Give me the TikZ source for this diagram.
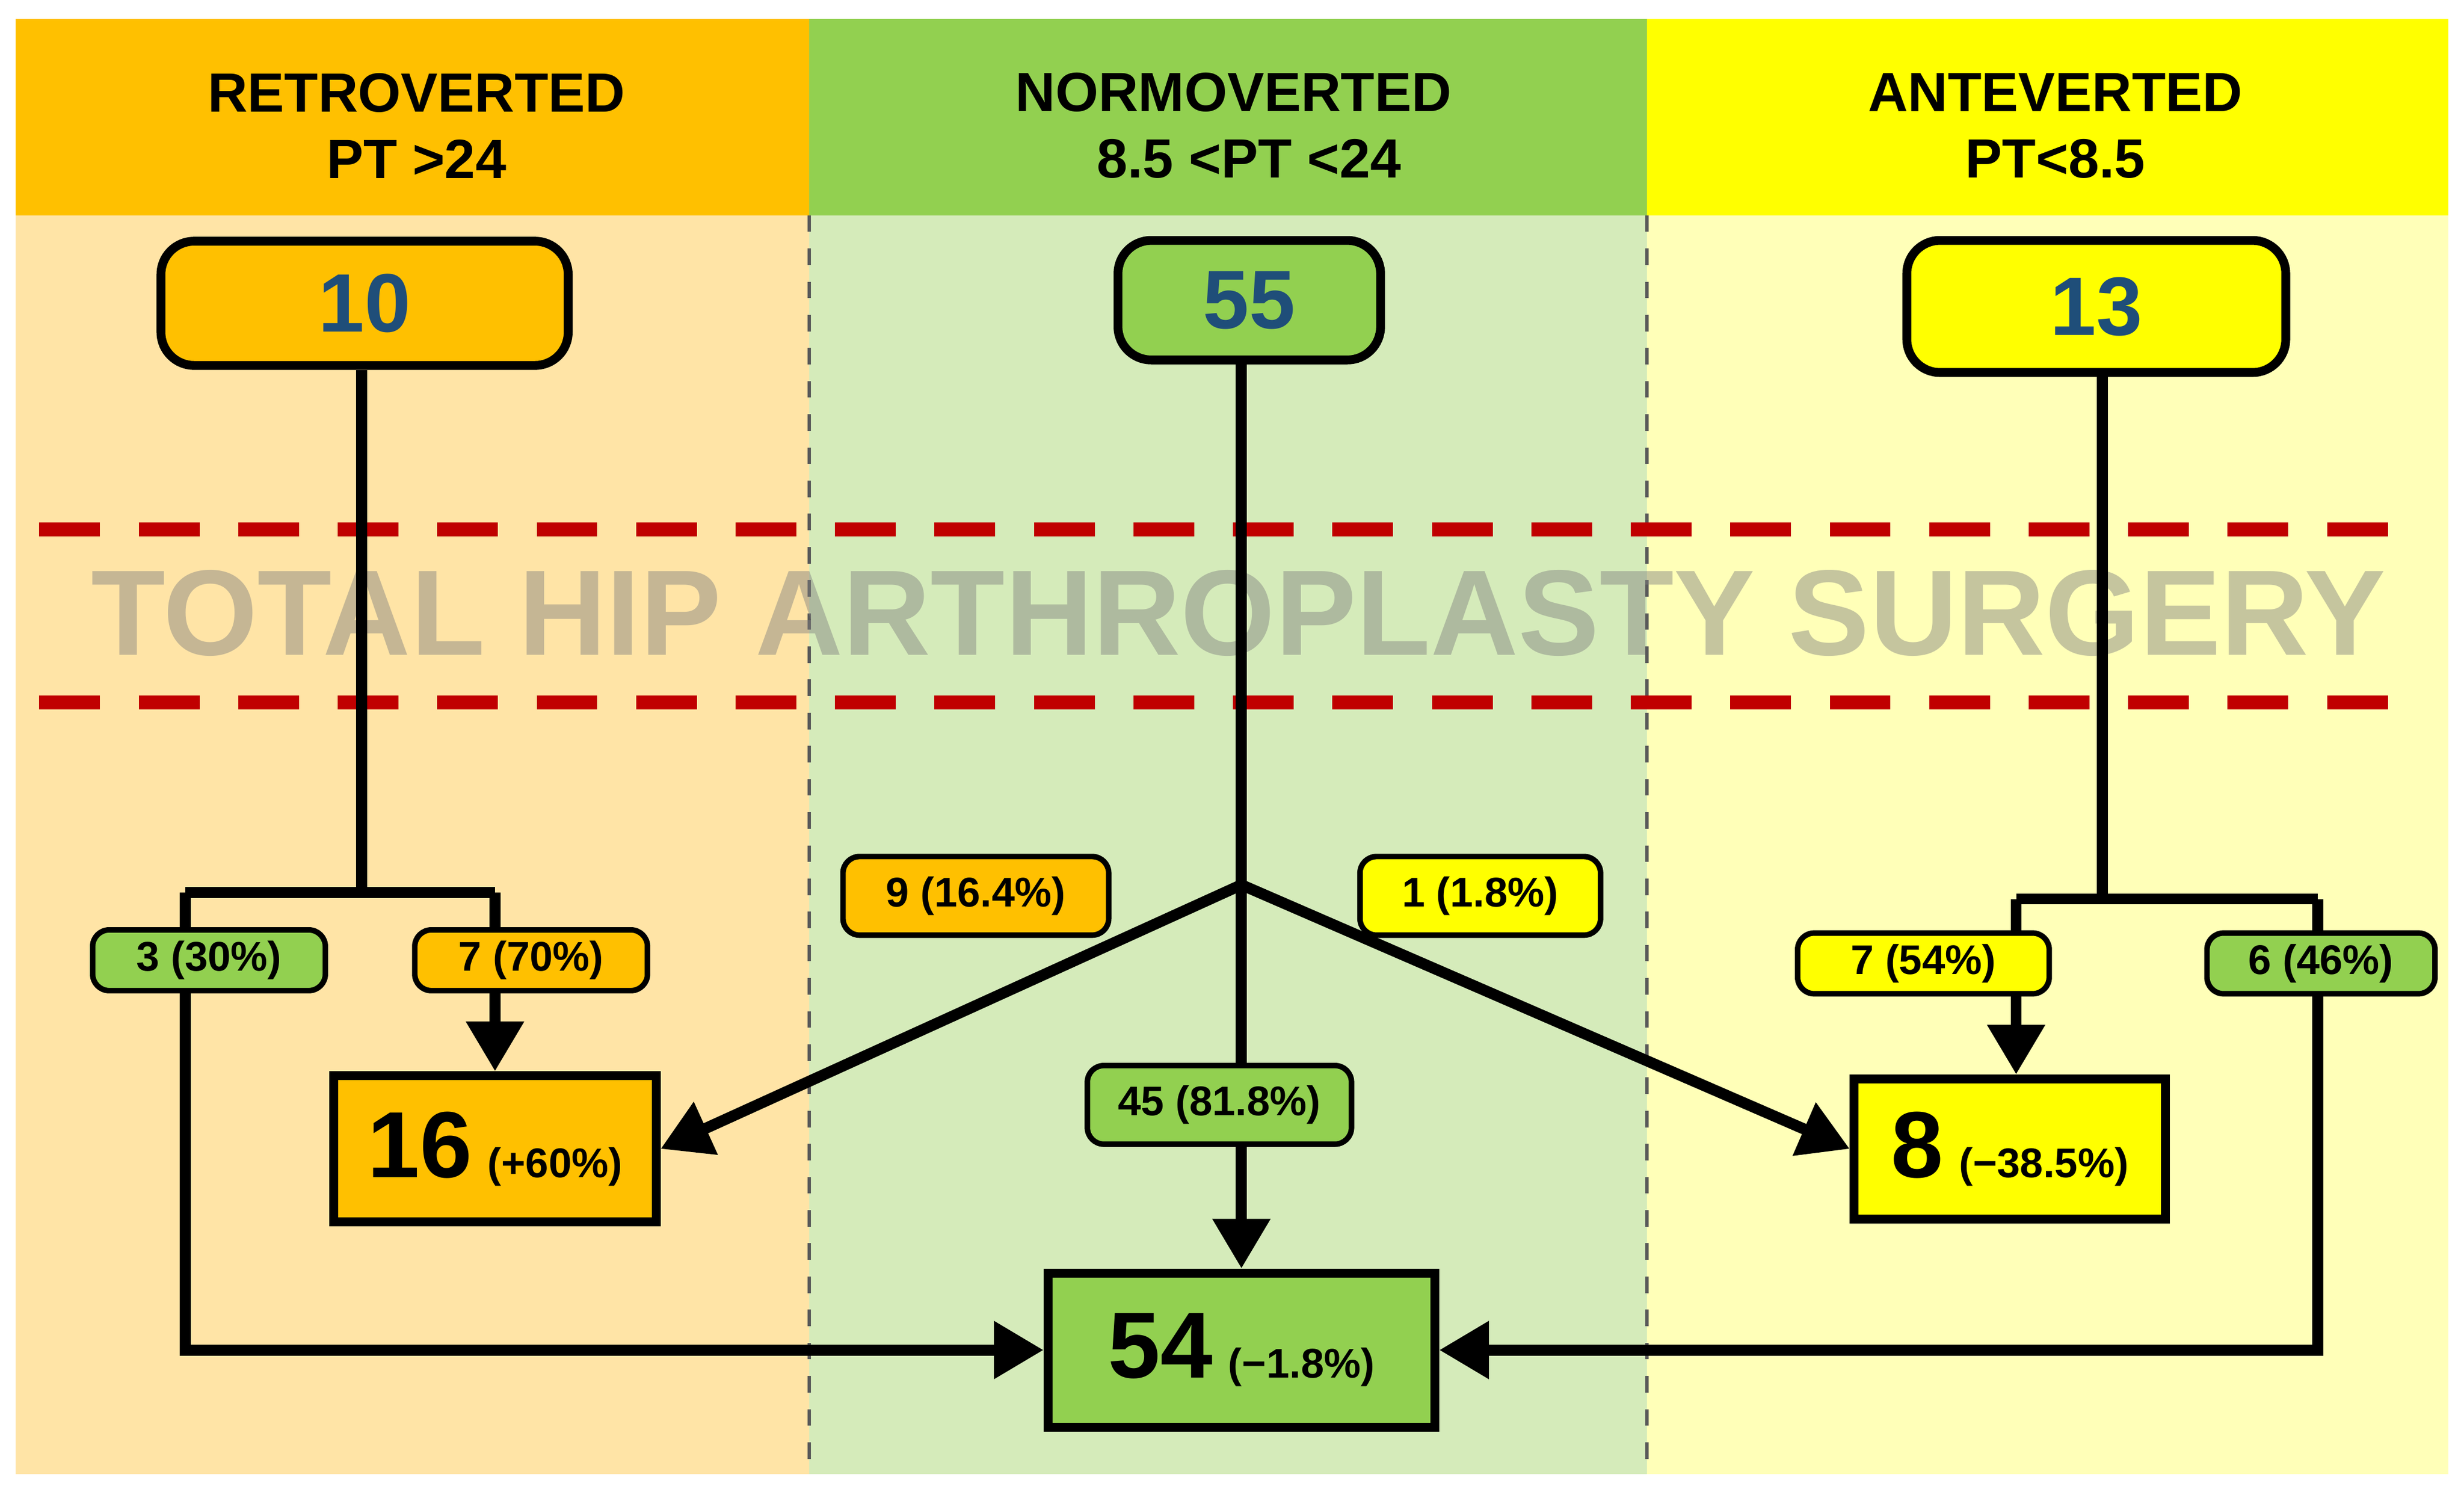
\documentclass[tikz,border=0pt]{standalone}
\usepackage{fontspec}
\setmainfont{Liberation Sans}
\usetikzlibrary{arrows.meta}
\definecolor{orangeH}{HTML}{FFC000}
\definecolor{greenH}{HTML}{92D050}
\definecolor{yellowH}{HTML}{FFFF00}
\definecolor{orangeB}{HTML}{FFE4A6}
\definecolor{greenB}{HTML}{D5EBBA}
\definecolor{yellowB}{HTML}{FFFFB8}
\definecolor{numblue}{HTML}{1F4E79}
\definecolor{redline}{HTML}{C00000}
\tikzset{
  head/.style={font=\bfseries\fontsize{10}{12}\selectfont, align=center},
  top/.style={draw=black, line width=1.6pt, rounded corners=6pt, font=\bfseries\fontsize{15}{15}\selectfont, text=numblue},
  lab/.style={draw=black, line width=1pt, rounded corners=3pt, font=\bfseries\fontsize{7.5}{8}\selectfont, inner sep=2pt},
  res/.style={draw=black, line width=1.6pt},
  flow/.style={line width=2pt},
  arr/.style={flow, -{Triangle[length=9pt,width=10pt]}}
}
\begin{document}
\begin{tikzpicture}[x=0.01cm,y=-0.01cm]
\useasboundingbox (0,0) rectangle (1568,949);
% backgrounds
\fill [orangeH] (10,12) rectangle (515,137);
\fill [greenH] (515,12) rectangle (1048,137);
\fill [yellowH] (1048,12) rectangle (1558,137);
\fill [orangeB] (10,137) rectangle (515,938);
\fill [greenB] (515,137) rectangle (1048,938);
\fill [yellowB] (1048,137) rectangle (1558,938);
\draw [gray!70!black, dashed, line width=0.6pt] (515,137) -- (515,938);
\draw [gray!70!black, dashed, line width=0.6pt] (1048,137) -- (1048,938);
\node [head] (hl) at (265,80) {RETROVERTED\\PT >24};
\node [head] (hm) at (785,80) {NORMOVERTED\\\ \ 8.5 <PT <24};
\node [head] (hr) at (1308,80) {ANTEVERTED\\PT<8.5};
% surgery band
\draw [redline, line width=2.5pt, dash pattern=on 11pt off 7pt] (25,337) -- (1540,337);
\draw [redline, line width=2.5pt, dash pattern=on 11pt off 7pt] (25,447) -- (1540,447);
\node [text=gray, opacity=0.45, font=\bfseries\fontsize{22}{22}\selectfont] (thas) at (788,390) {TOTAL HIP ARTHROPLASTY SURGERY};
% start boxes
\node [top, fill=orangeH, minimum width=2.59cm, minimum height=0.79cm] (n10) at (232,193) {10};
\node [top, fill=greenH, minimum width=1.67cm, minimum height=0.76cm] (n55) at (795,191) {55};
\node [top, fill=yellowH, minimum width=2.41cm, minimum height=0.84cm] (n13) at (1334,195) {13};
% result boxes
\node [res, fill=orangeH, minimum width=2.05cm, minimum height=0.93cm] (n16) at (315,731) {\fontsize{17}{17}\selectfont\bfseries 16\,\fontsize{7.5}{8}\selectfont (+60\%)};
\node [res, fill=greenH, minimum width=2.46cm, minimum height=0.98cm] (n54) at (790,859) {\fontsize{17}{17}\selectfont\bfseries 54\,\fontsize{7.5}{8}\selectfont (−1.8\%)};
\node [res, fill=yellowH, minimum width=1.98cm, minimum height=0.89cm] (n8) at (1279,731) {\fontsize{17}{17}\selectfont\bfseries 8\,\fontsize{7.5}{8}\selectfont (−38.5\%)};
% junctions
\coordinate (jl) at (230,568);
\coordinate (jlL) at (118,568);
\coordinate (jlR) at (315,568);
\coordinate (jm) at (790,563);
\coordinate (jr) at (1338,572);
\coordinate (jrL) at (1283,572);
\coordinate (jrR) at (1475,572);
% flows
\draw [flow] (n10.south -| jl) -- (jl);
\draw [flow] (jlL) -- (jlR);
\draw [arr] (jlR) -- (n16.north);
\draw [arr] (jlL) |- (n54.west);
\draw [flow] (n55.south -| jm) -- (jm);
\draw [arr] (jm) -- (n16.east);
\draw [arr] (jm) -- (n54.north);
\draw [arr] (jm) -- (n8.west);
\draw [flow] (n13.south -| jr) -- (jr);
\draw [flow] (jrL) -- (jrR);
\draw [arr] (jrL) -- (jrL |- n8.north);
\draw [arr] (jrR) |- (n54.east);
% labels
\node [lab, fill=greenH, minimum width=1.48cm] (l3) at (133,611) {3 (30\%)};
\node [lab, fill=orangeH, minimum width=1.48cm] (l7) at (338,611) {7 (70\%)};
\node [lab, fill=orangeH, minimum width=1.69cm, minimum height=0.5cm] (l9) at (621,570) {9 (16.4\%)};
\node [lab, fill=yellowH, minimum width=1.53cm, minimum height=0.5cm] (l1) at (942,570) {1 (1.8\%)};
\node [lab, fill=greenH, minimum width=1.68cm, minimum height=0.5cm] (l45) at (776,703) {45 (81.8\%)};
\node [lab, fill=yellowH, minimum width=1.6cm] (l754) at (1224,613) {7 (54\%)};
\node [lab, fill=greenH, minimum width=1.45cm] (l6) at (1477,613) {6 (46\%)};
\end{tikzpicture}
\end{document}
